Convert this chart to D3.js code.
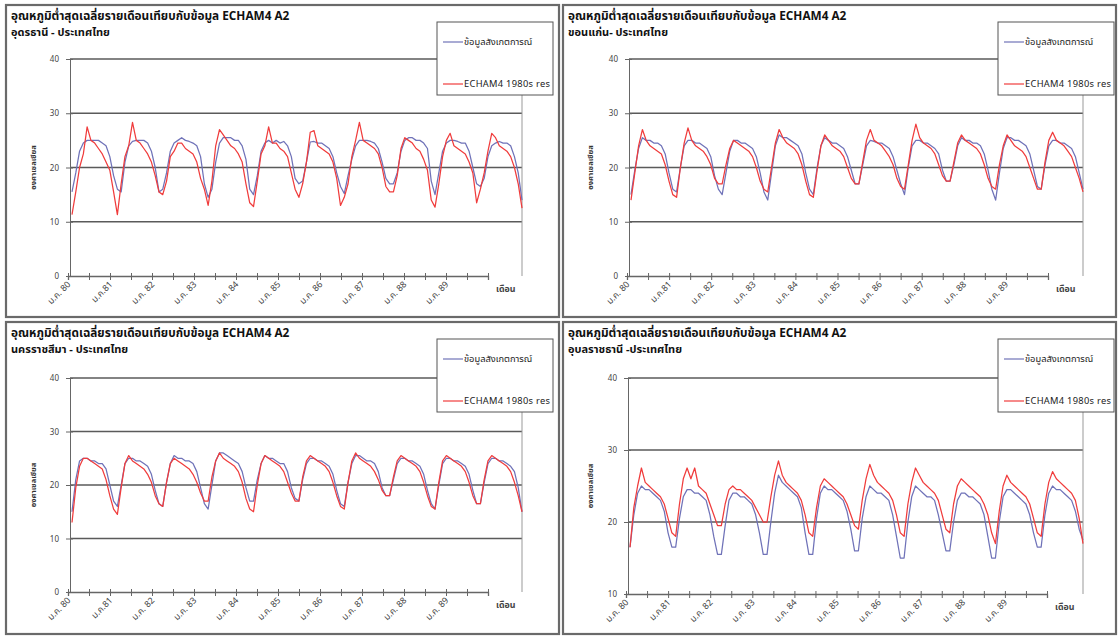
<!DOCTYPE html>
<html>
<head>
<meta charset="utf-8">
<script src="https://cdn.jsdelivr.net/npm/d3@7"></script>
<style>
  body { margin: 0; background: #fff; }
  svg { display: block; }
  text { font-family: Tahoma, "Noto Sans Thai", "Loma", "Garuda", sans-serif; }
</style>
</head>
<body>
<svg id="chart" width="1119" height="637"></svg>
<script>
// tick labels (one per January) and legend names
var yearLabels = ['ม.ค. 80', 'ม.ค.81', 'ม.ค. 82', 'ม.ค. 83', 'ม.ค. 84', 'ม.ค. 85', 'ม.ค. 86', 'ม.ค. 87', 'ม.ค. 88', 'ม.ค. 89']
var seriesNames = ['ข้อมูลสังเกตการณ์', 'ECHAM4 1980s res']
var chartTitle = 'อุณหภูมิต่ำสุดเฉลี่ยรายเดือนเทียบกับข้อมูล ECHAM4 A2'
var stations = ['อุดรธานี - ประเทศไทย', 'ขอนแก่น- ประเทศไทย', 'นครราชสีมา - ประเทศไทย', 'อุบลราชธานี -ประเทศไทย']

// monthly minimum temperature, Jan 1980 .. Dec 1989
var udonObs = [
  15.5, 19, 23, 24.5, 25, 25, 25, 25, 24.5, 24, 22, 18.5,
  16, 15.5, 21, 24, 24.8, 25, 25, 25, 24.5, 23, 20, 15.5,
  16, 19, 23, 24.5, 25, 25.5, 25, 24.8, 24.5, 24, 22, 17,
  14.5, 16, 21, 24.5, 25.5, 25.5, 25.5, 25, 25, 24, 21.5, 16,
  15, 18.5, 23, 24.5, 25, 24.5, 25, 24.5, 24.8, 24, 22, 18,
  17, 17.5, 21, 24.7, 24.8, 24.5, 24.5, 24, 23.5, 22, 19, 16.5,
  15.2, 18.5, 21.5, 24, 25, 25, 25, 24.8, 24.5, 23.5, 21, 18,
  17, 17, 19, 23, 25, 25.5, 25.5, 25, 25, 24.5, 23.5, 17.5,
  15, 19, 23, 24.5, 25, 25, 24.8, 24.5, 24.5, 23, 20, 17,
  16.5, 18, 22, 24, 24.5, 24.8, 24.5, 24.5, 24, 22, 19, 14
]
var udonSim = [
  11.3, 15.5, 20, 22.5, 27.5, 25, 24.5, 23.5, 22.5, 21, 19.5, 15.5,
  11.3, 17, 22, 24, 28.3, 25, 24.5, 23.5, 22.5, 21, 18.5, 15.5,
  15, 17.5, 22, 23, 24.5, 24.5, 23.5, 23, 22.5, 21, 18, 16,
  13, 17.5, 24, 27, 26, 25, 24, 23.5, 22.5, 21, 17, 13.5,
  12.8, 17.5, 22.5, 24, 27.5, 24.5, 24.5, 23.5, 23, 22, 19, 16,
  14.5, 17, 21, 26.5, 26.8, 24, 23.5, 23, 22.5, 21, 18, 13,
  14.5, 17, 22, 25, 28.3, 25, 24.5, 24, 23.5, 22.5, 20, 16.5,
  15.5, 15.5, 18.5, 23.5, 25.5, 25, 24.5, 23.5, 23, 21.5, 19.5, 14,
  12.7, 17, 22, 25, 26.3, 24, 23.5, 23, 22.5, 21, 19, 13.5,
  16, 19, 23, 26.3, 25.5, 24, 23.5, 23, 22, 20, 17, 12.5
]
var khonObs = [
  15, 19.5, 23.5, 25.5, 25, 25, 24.5, 24.5, 24, 22.5, 19, 16,
  15.5, 20, 24, 25, 25, 24.5, 24.5, 24, 23.5, 22, 18.5, 16,
  15, 19, 23, 25, 25, 24.5, 24.5, 24, 23.5, 22, 19, 15.5,
  14, 19, 24, 26, 25.5, 25.5, 25, 24.5, 24, 22.5, 19, 16,
  15, 20, 24, 25.5, 25, 24.5, 24.5, 24, 23.5, 22, 19.5, 17,
  17, 20.5, 24, 25, 24.8, 24.5, 24.5, 24, 23.5, 22, 19.5, 17,
  15, 20, 24, 25, 25, 24.5, 24.5, 24, 23.5, 22.5, 19.5, 17.5,
  17.5, 20.5, 24, 25.5, 25, 25, 24.5, 24.5, 24, 22.5, 19.5, 16,
  14, 19, 23.5, 25.5, 25.5, 25, 25, 24.5, 24, 22.5, 19.5, 16.5,
  16, 20.5, 24, 25, 25, 24.5, 24.5, 24, 23.5, 22, 19, 16
]
var khonSim = [
  14, 19, 24, 27, 25, 24, 23.5, 23, 22.5, 20.5, 17.5, 15,
  14.5, 20, 24.5, 27.3, 25, 24, 23.5, 23, 22, 20.5, 18, 17,
  17, 20.5, 23.5, 25, 24.5, 24, 23.5, 23, 22, 20, 17.5, 16,
  15.5, 20, 24.5, 27, 25.5, 24.5, 24, 23.5, 22.5, 20.5, 17.5, 15,
  14.5, 19.5, 24, 26, 25, 24, 23.5, 23, 22, 20, 18, 17,
  17, 21, 25, 27, 25, 24.5, 24, 23, 22, 20.5, 18, 16.5,
  16, 20.5, 25, 28, 25.5, 24.5, 24, 23.5, 22.5, 20.5, 18.5, 17.5,
  17.5, 21, 24.5, 26, 25, 24.5, 24, 23.5, 22.5, 20.5, 18, 16.5,
  16, 20.5, 24, 26, 25, 24, 23.5, 23, 22, 20, 18, 16,
  16, 21, 25, 26.5, 25, 24.5, 24, 23, 22, 20, 18, 15.5
]
var koratObs = [
  15, 21, 24.5, 25, 25, 24.5, 24.5, 24, 24, 23, 20, 17,
  16, 20, 24, 25, 25, 24.5, 24.5, 24, 23.5, 22, 19, 16.5,
  16, 20.5, 24, 25.5, 25, 25, 24.5, 24.5, 24, 22.5, 19.5, 16.5,
  15.5, 20, 24.5, 26, 26, 25.5, 25, 24.5, 24, 22.5, 19.5, 17,
  17, 21, 24, 25.5, 25, 25, 24.5, 24, 24, 22.5, 19.5, 17.5,
  17, 21, 24, 25, 25, 24.5, 24.5, 24, 23.5, 22, 19, 16.5,
  16, 20.5, 24, 25.5, 25.5, 25, 24.5, 24.5, 24, 22.5, 19.5, 18,
  18, 21, 24, 25, 25, 24.5, 24.5, 24, 23.5, 22, 19, 16.5,
  15.5, 20, 24, 25, 25, 24.5, 24.5, 24, 23.5, 22, 19, 16.5,
  16.5, 20.5, 24, 25, 25, 24.5, 24.5, 24, 23.5, 22.5, 19.5, 15
]
var koratSim = [
  13, 19.5, 23.5, 25, 25, 24.5, 24, 23.5, 23, 21, 18, 15.5,
  14.5, 19.5, 24, 25.5, 24.5, 24, 23.5, 23, 22, 20.5, 18, 16.5,
  16, 20.5, 24, 25, 24.5, 24, 23.5, 23, 22, 20.5, 18.5, 17,
  17, 21.5, 24.5, 26, 25, 24.5, 24, 23.5, 22.5, 20.5, 17.5, 15.5,
  15, 20, 24, 25.5, 25, 24.5, 24, 23.5, 22.5, 20.5, 18.5, 17,
  17, 21.5, 24.5, 25.5, 25, 24.5, 24, 23.5, 22.5, 20.5, 18, 16,
  15.5, 20.5, 24.5, 26, 25, 24.5, 24, 23.5, 22.5, 21, 19, 18,
  18, 21.5, 24.5, 25.5, 25, 24.5, 24, 23.5, 22.5, 20.5, 18, 16,
  15.5, 20.5, 24.5, 25.5, 25, 24.5, 24, 23.5, 22.5, 20.5, 18, 16.5,
  16.5, 21, 24.5, 25.5, 25, 24.5, 24, 23.5, 22.5, 20.5, 18, 15
]
var ubonObs = [
  16.5, 21, 24, 25, 24.5, 24.5, 24, 23.5, 23, 21.5, 18.5, 16.5,
  16.5, 20.5, 23.5, 24.5, 24.5, 24, 24, 23.5, 23, 21, 18, 15.5,
  15.5, 19.5, 23, 24, 24, 23.5, 23.5, 23, 22.5, 21, 18.5, 15.5,
  15.5, 20, 24, 26.5, 25.5, 25, 24.5, 24, 23.5, 22, 18.5, 15.5,
  15.5, 20.5, 24, 25, 24.5, 24.5, 24, 23.5, 23, 21.5, 19, 16,
  16, 20.5, 23.5, 25, 24.5, 24, 24, 23.5, 23, 21, 18, 15,
  15, 20, 23.5, 25, 24.5, 24, 23.5, 23.5, 23, 21, 18.5, 16,
  16, 20, 23, 24, 24, 23.5, 23.5, 23, 22.5, 21, 18, 15,
  15, 20, 23.5, 24.5, 24.5, 24, 23.5, 23, 22.5, 21, 18.5, 16.5,
  16.5, 21, 24, 25, 24.5, 24.5, 24, 23.5, 23, 21.5, 19, 17.5
]
var ubonSim = [
  16.5, 22, 25, 27.5, 25.5, 25, 24.5, 24, 23.5, 22.5, 20.5, 18.5,
  18, 22.5, 26, 27.5, 26, 27.5, 25, 24.5, 24, 22.5, 21, 19.5,
  19.5, 22.5, 24.5, 25, 24.5, 24.5, 24, 23.5, 23, 22, 21, 20,
  20, 23.5, 26.5, 28.5, 26.5, 25.5, 25, 24.5, 24, 23, 21, 18.5,
  18, 22, 25, 26, 25.5, 25, 24.5, 24, 23.5, 22.5, 21, 19.5,
  19, 23, 26, 28, 26.5, 25.5, 25, 24.5, 24, 23, 21, 18.5,
  18, 22.5, 25.5, 27.5, 26.5, 25.5, 25, 24.5, 24, 23, 21, 19,
  18.5, 22.5, 25, 26, 25.5, 25, 24.5, 24, 23.5, 22.5, 21, 18.5,
  17, 21.5, 25, 26.5, 25.5, 25, 24.5, 24, 23.5, 22.5, 20.5, 18.5,
  18, 22.5, 25.5, 27, 26, 25.5, 25, 24.5, 24, 23, 20.5, 17
]

var colors = ['#6f72b8', '#f03c3c']

var panels = [
  {sub: stations[0], obs: udonObs, sim: udonSim, yMin: 0,
   box: [6, 5, 553, 312], plot: {l: 70, r: 522, t: 59, b: 276, axisEnd: 488}},
  {sub: stations[1], obs: khonObs, sim: khonSim, yMin: 0,
   box: [563, 5, 553, 312], plot: {l: 629, r: 1083, t: 59, b: 276, axisEnd: 1048}},
  {sub: stations[2], obs: koratObs, sim: koratSim, yMin: 0,
   box: [6, 322, 553, 312], plot: {l: 70, r: 522, t: 378, b: 592, axisEnd: 488}},
  {sub: stations[3], obs: ubonObs, sim: ubonSim, yMin: 10,
   box: [563, 322, 553, 312], plot: {l: 628, r: 1083, t: 378, b: 594, axisEnd: 1047}}
]

var svg = d3.select('#chart')

panels.forEach(function (p) {
  var g = svg.append('g')
  var b = p.box, pl = p.plot

  g.append('rect')
    .attr('x', b[0]).attr('y', b[1])
    .attr('width', b[2]).attr('height', b[3])
    .attr('fill', '#fff')
    .attr('stroke', '#6a6a6a')
    .attr('stroke-width', 2.2)

  g.append('text')
    .attr('x', b[0] + 5).attr('y', b[1] + 15)
    .attr('font-size', 11.8).attr('font-weight', 'bold')
    .attr('fill', '#111')
    .text(chartTitle)
  g.append('text')
    .attr('x', b[0] + 5).attr('y', b[1] + 31)
    .attr('font-size', 11).attr('font-weight', 'bold')
    .attr('fill', '#111')
    .text(p.sub)

  var y = d3.scaleLinear().domain([p.yMin, 40]).range([pl.b, pl.t])
  var x = d3.scaleLinear().domain([0, p.obs.length - 1]).range([pl.l + 2, pl.r])
  var xa = d3.scaleLinear().domain([0, 120]).range([pl.l - 2, pl.axisEnd])

  // horizontal gridlines
  var gridVals = d3.range(p.yMin + 10, 41, 10)
  g.selectAll('.grid')
    .data(gridVals)
    .enter().append('line')
    .attr('x1', pl.l).attr('x2', pl.r)
    .attr('y1', function (d) { return y(d) })
    .attr('y2', function (d) { return y(d) })
    .attr('stroke', '#5a5a5a')
    .attr('stroke-width', 1.3)

  g.append('line')
    .attr('x1', pl.r).attr('x2', pl.r)
    .attr('y1', pl.t).attr('y2', pl.b)
    .attr('stroke', '#999')
    .attr('stroke-width', 1)

  // y axis
  var yAxis = d3.axisLeft(y).tickValues(d3.range(p.yMin, 41, 10))
    .tickSize(4).tickPadding(7)
  var ya = g.append('g').attr('transform', 'translate(' + pl.l + ',0)').call(yAxis)
  ya.select('.domain').attr('stroke', '#666')
  ya.selectAll('line').attr('stroke', '#666').attr('x2', -4).attr('x1', 3)
  ya.selectAll('text').attr('font-size', 8).attr('fill', '#444')
    .attr('font-family', 'Arial, Liberation Sans, sans-serif')

  g.append('text')
    .attr('transform', 'translate(' + (b[0] + 30) + ',' + ((pl.t + pl.b) / 2) + ') rotate(-90)')
    .attr('text-anchor', 'middle')
    .attr('font-size', 7.5)
    .attr('font-weight', 'bold')
    .attr('fill', '#333')
    .text('องศาเซลเซียส')

  // x axis
  var xAxis = d3.axisBottom(xa).tickValues(d3.range(0, 121, 6))
    .tickSize(4).tickFormat('')
  var xg = g.append('g').attr('transform', 'translate(0,' + pl.b + ')').call(xAxis)
  xg.select('.domain').attr('stroke', '#666').attr('stroke-width', 1.3)
  xg.selectAll('line').attr('stroke', '#666').attr('y1', -3)

  g.selectAll('.xlab')
    .data(yearLabels)
    .enter().append('text')
    .attr('transform', function (d, i) {
      return 'translate(' + (xa(i * 12) + 3) + ',' + (pl.b + 9) + ') rotate(-45)'
    })
    .attr('text-anchor', 'end')
    .attr('font-size', 8.8)
    .attr('fill', '#444')
    .text(function (d) { return d })

  g.append('text')
    .attr('x', pl.axisEnd + 8).attr('y', pl.b + 16)
    .attr('font-size', 8.8).attr('font-weight', 'bold').attr('fill', '#444')
    .text('เดือน')

  // series
  var line = d3.line()
    .x(function (d, i) { return x(i) })
    .y(function (d) { return y(d) })

  ;[p.obs, p.sim].forEach(function (s, k) {
    g.append('path')
      .datum(s)
      .attr('fill', 'none')
      .attr('stroke', colors[k])
      .attr('stroke-width', 1.25)
      .attr('stroke-linejoin', 'round')
      .attr('d', line)
  })

  // legend
  var lx = pl.r - 85, ly = b[1] + 17
  var lg = g.append('g').attr('transform', 'translate(' + lx + ',' + ly + ')')
  lg.append('rect')
    .attr('width', 116).attr('height', 73)
    .attr('fill', '#fff').attr('stroke', '#555').attr('stroke-width', 1)
  seriesNames.forEach(function (name, k) {
    var yy = 20 + k * 42
    lg.append('line')
      .attr('x1', 6).attr('x2', 26).attr('y1', yy).attr('y2', yy)
      .attr('stroke', colors[k]).attr('stroke-width', 1.2)
    lg.append('text')
      .attr('x', 27).attr('y', yy + 3)
      .attr('font-size', 9.3).attr('fill', '#222')
      .attr('textLength', k === 1 ? 86 : null)
      .text(name)
  })
})
</script>
</body>
</html>
